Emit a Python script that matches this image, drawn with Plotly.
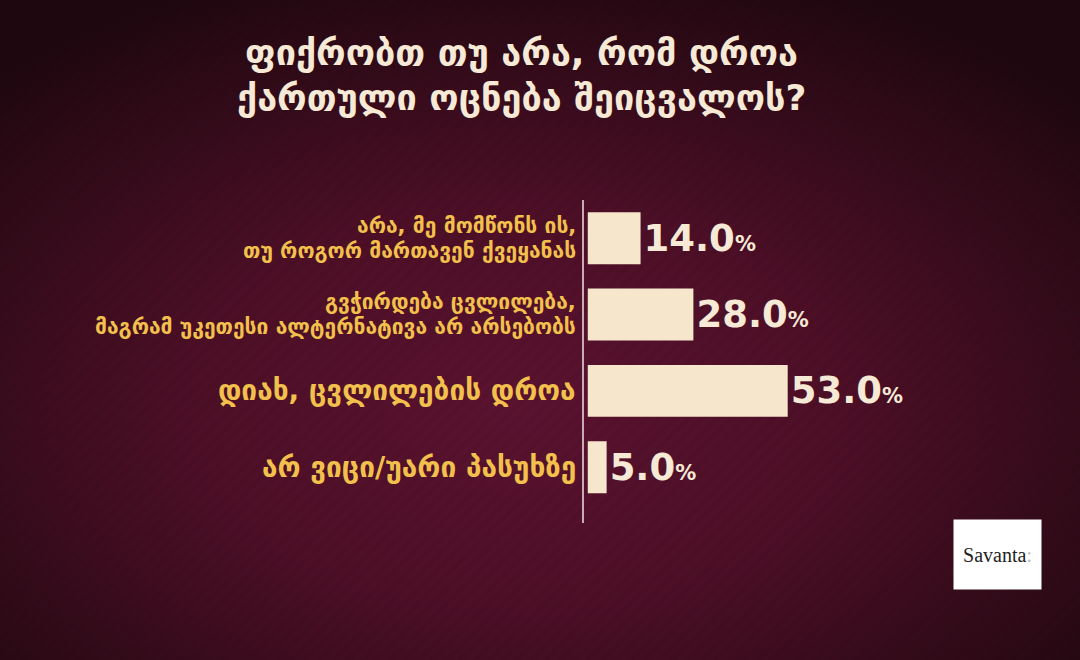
import base64
import plotly.graph_objects as go

# ---- data ----
title_lines = ["ფიქრობთ თუ არა, რომ დროა", "ქართული ოცნება შეიცვალოს?"]
categories = [
    "არა, მე მომწონს ის,<br>თუ როგორ მართავენ ქვეყანას",
    "გვჭირდება ცვლილება,<br>მაგრამ უკეთესი ალტერნატივა არ არსებობს",
    "დიახ, ცვლილების დროა",
    "არ ვიცი/უარი პასუხზე",
]
values = [14.0, 28.0, 53.0, 5.0]
source_text = "Savanta"

# ---- styling ----
BAR = "#f5e6cc"
GOLD = "#f2c04c"
CREAM = "#f6e9d6"

svg = """<svg xmlns='http://www.w3.org/2000/svg' width='1080' height='660'>
<defs>
<radialGradient id='g' cx='48%' cy='62%' r='70%'>
<stop offset='0%' stop-color='#5b1330'/>
<stop offset='45%' stop-color='#4c0f26'/>
<stop offset='100%' stop-color='#1f070f'/>
</radialGradient>
<pattern id='p' width='10' height='10' patternUnits='userSpaceOnUse' patternTransform='rotate(45)'>
<rect width='5' height='10' fill='rgba(0,0,0,0.04)'/>
</pattern>
</defs>
<rect width='1080' height='660' fill='url(#g)'/>
<rect width='1080' height='660' fill='url(#p)'/>
</svg>"""
bg_uri = "data:image/svg+xml;base64," + base64.b64encode(svg.encode()).decode()

W, H = 1080, 660
ML, MR, MT, MB = 584, 115, 200, 137
PW, PH = W - ML - MR, H - MT - MB


def py(ypx):
    """figure pixel row -> paper y"""
    return (MT + PH - ypx) / PH


def px(xpx):
    return (xpx - ML) / PW


fig = go.Figure(
    go.Bar(
        x=values,
        y=categories,
        orientation="h",
        width=0.68,
        marker=dict(color=BAR, line=dict(width=0)),
        texttemplate="%{x:.1f}<span style='font-size:21px'>%</span>",
        textposition="outside",
        constraintext="none",
        cliponaxis=False,
        textfont=dict(family="DejaVu Sans", size=37, color=CREAM, weight="bold"),
        hoverinfo="skip",
    )
)

annotations = []
for cat in categories:
    lines = cat.split("<br>")
    if len(lines) == 1:
        annotations.append(dict(
            x=0, xref="paper", y=cat, yref="y", text=lines[0], showarrow=False,
            xanchor="right", yanchor="middle", xshift=-6,
            font=dict(family="DejaVu Sans", size=28, color=GOLD, weight="bold"),
        ))
    else:
        for i, ln in enumerate(lines):
            annotations.append(dict(
                x=0, xref="paper", y=cat, yref="y", text=ln, showarrow=False,
                xanchor="right", yanchor="middle", xshift=-6,
                yshift=12.5 if i == 0 else -12.5,
                font=dict(family="DejaVu Sans", size=21, color=GOLD, weight="bold"),
            ))

# title lines
for ln, ypx in zip(title_lines, [52, 97]):
    annotations.append(dict(
        x=px(521), xref="paper", y=py(ypx), yref="paper", text=ln, showarrow=False,
        xanchor="center", yanchor="middle",
        font=dict(family="DejaVu Sans", size=36, color=CREAM, weight="bold"),
    ))

# Savanta source box
annotations.append(dict(
    x=px(997.5), xref="paper", y=py(554.5), yref="paper",
    text=source_text + "<span style='color:#bbbbbb'>:</span>",
    showarrow=False, xanchor="center", yanchor="middle",
    width=87, height=69, bgcolor="#ffffff", borderpad=0,
    font=dict(family="Liberation Serif", size=20, color="#222222"),
))

fig.update_layout(
    width=W, height=H,
    margin=dict(l=ML, r=MR, t=MT, b=MB),
    paper_bgcolor="#3f0c1f",
    plot_bgcolor="rgba(0,0,0,0)",
    showlegend=False,
    xaxis=dict(range=[-1, 100], visible=False, fixedrange=True),
    yaxis=dict(
        range=[3.73, -0.5], showticklabels=False, showgrid=False, zeroline=False,
        showline=True, linecolor="#c9aab5", linewidth=1.5, ticks="", fixedrange=True,
    ),
    annotations=annotations,
    images=[dict(
        source=bg_uri, xref="paper", yref="paper",
        x=-ML / PW, y=(PH + MT) / PH, sizex=W / PW, sizey=H / PH,
        xanchor="left", yanchor="top", sizing="stretch", layer="below",
    )],
)

fig.write_html(
    "out.html",
    config={"displayModeBar": False},
    post_script="document.body.style.margin='0';document.body.style.overflow='hidden';",
)
